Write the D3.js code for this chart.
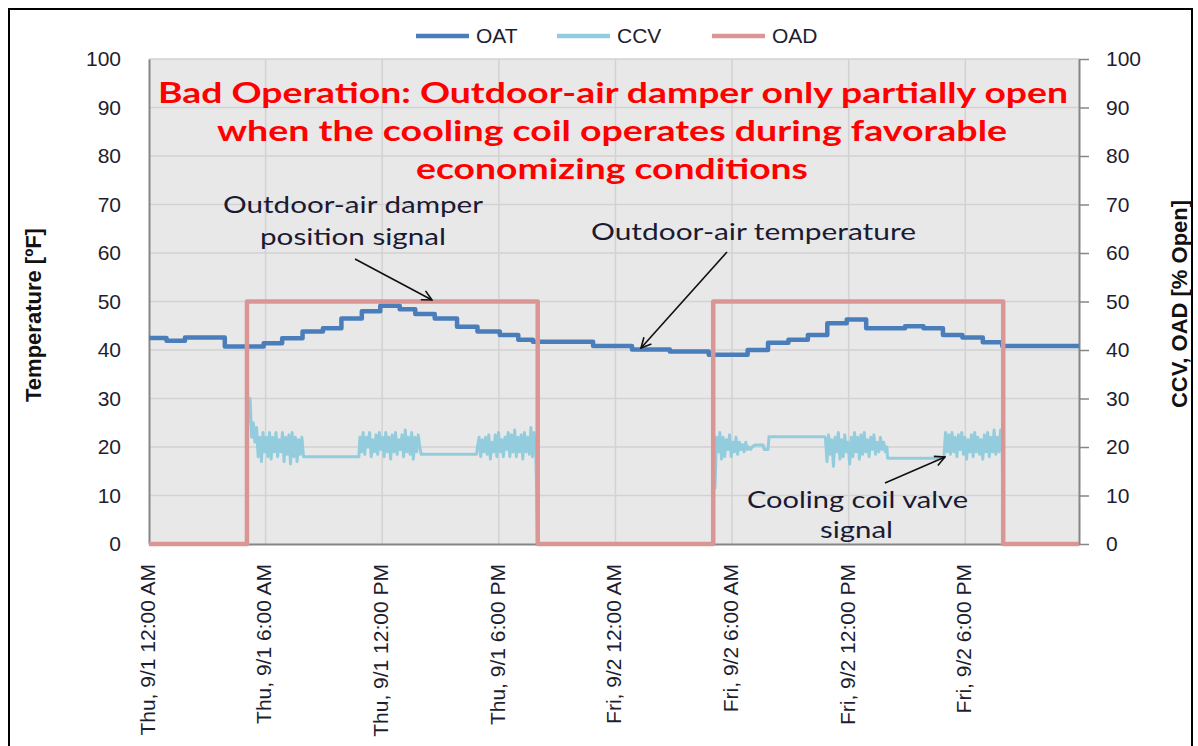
<!DOCTYPE html>
<html>
<head>
<meta charset="utf-8">
<script src="https://cdn.jsdelivr.net/npm/d3@7"></script>
<style>
  body { margin: 0; background: #fff; }
  svg { display: block; }
</style>
</head>
<body>
<svg id="chart" width="1198" height="746"></svg>
<script>
var chartWidth = 1198;
var chartHeight = 746;

/********
 * Data *
 ********/

// hours since Thu 9/1 12:00 AM
var tickHours = [0, 6, 12, 18, 24, 30, 36, 42];
var tickLabels = ["Thu, 9/1 12:00 AM", "Thu, 9/1 6:00 AM", "Thu, 9/1 12:00 PM", "Thu, 9/1 6:00 PM",
                  "Fri, 9/2 12:00 AM", "Fri, 9/2 6:00 AM", "Fri, 9/2 12:00 PM", "Fri, 9/2 6:00 PM"];
var yTicks = [0, 10, 20, 30, 40, 50, 60, 70, 80, 90, 100];
var endHour = 47.85;

// outdoor-air temperature, step changes
var oatHours = [0, 0.9, 1.85, 3.9, 5.9, 6.85, 7.9, 8.95, 9.9, 10.95, 11.9, 12.9, 13.7, 14.7, 15.85,
                16.9, 18.05, 19.0, 19.75, 22.85, 24.85, 26.8, 28.8, 30.8, 31.85, 32.9, 33.9, 34.9, 35.9,
                36.9, 38.9, 39.85, 40.85, 41.85, 42.9, 43.9];
var oatValues = [42.5, 41.9, 42.6, 40.7, 41.4, 42.4, 43.8, 44.5, 46.5, 48.0, 49.1, 48.4, 47.4, 46.5, 44.8,
                 43.8, 43.1, 42.1, 41.7, 40.8, 40.1, 39.7, 39.0, 40.0, 41.5, 42.1, 43.1, 45.5, 46.3,
                 44.5, 44.9, 44.5, 43.1, 42.6, 41.6, 40.8];

// outdoor-air damper schedule
var oadHours = [0, 5.04, 20.0, 29.03, 43.95];
var oadValues = [0, 50, 0, 50, 0];

// cooling coil valve: hunting segments sampled every 5 minutes
var ccvThuMorning = [30, 22, 25, 21, 24, 18, 22, 17, 23, 19, 22, 18, 23, 17.5, 22, 19, 23, 18, 21.5, 19,
                     23, 17, 22, 18.5, 22.5, 16.5, 23, 18, 22, 17, 21.5, 18.5, 22, 18];
var ccvThuMidday = [22, 19, 23, 18.5, 22, 20, 23, 18, 21.5, 19, 22.5, 18.5, 23, 19.5, 22, 18, 23, 19, 22,
                    17.5, 22.5, 19, 23, 18.5, 21.5, 19.5, 22.5, 18, 23.5, 19, 22, 18.5, 23, 17.5, 22, 19, 22.5, 20];
var ccvThuEvening = [20, 22, 18, 21.5, 19, 22, 18.5, 22.5, 17.5, 21, 19, 22.5, 18, 23, 19, 21.5, 18, 22,
                     19.5, 23, 18, 22.5, 19, 23.5, 18, 22, 19, 22.5, 17.5, 23, 19, 22, 18.5, 24, 18, 23, 19];
var ccvFriMorning = [11.5, 22, 19, 23, 17.5, 22, 18, 21.5, 19.5, 22.5, 18, 21, 19, 22, 18.5, 21, 19.5,
                     20.5, 19, 21, 19.5, 20, 19.5, 20];
var ccvFriMidday = [22, 17, 22.5, 18.5, 21.5, 16, 22, 19, 23, 17.5, 21.5, 18, 22.5, 19, 21, 16.5, 22, 18,
                    23, 19, 22, 17.5, 22.5, 18.5, 23, 19, 21.5, 18, 22, 19.5, 22.5, 18.5, 21, 19, 22, 19.5, 21, 19, 20];
var ccvFriEvening = [18, 23, 19, 22.5, 18.5, 23, 19, 22, 18, 22.5, 19.5, 23, 18.5, 22, 17.5, 21.5, 19,
                     22.5, 18, 23, 19, 22, 18.5, 21.5, 17.5, 22.5, 19, 23, 18, 22, 19, 23.5, 18.5, 22, 19, 23.5, 19];
// [hour, value] for the steady parts between hunting
var ccvSteady = [[0, 0], [5.04, 0], [5.06, 24], "A", [8.05, 18.0], [10.8, 18.0], "B", [14.0, 18.5], [16.85, 18.5], "C",
                 [20.0, 0], [29.03, 0], [29.05, 22], "D", [31.15, 20.4], [31.6, 20.4], [31.65, 19.5], [31.85, 19.5],
                 [31.9, 22.1], [34.75, 22.1], "E", [38.0, 17.7], [40.85, 17.7], "F", [43.95, 0], [endHour, 0]];
var ccvSegments = {A: [5.2, ccvThuMorning], B: [10.85, ccvThuMidday], C: [16.9, ccvThuEvening],
                   D: [29.12, ccvFriMorning], E: [34.8, ccvFriMidday], F: [40.9, ccvFriEvening]};

/**********
 * Scales *
 **********/

var x = d3.scaleLinear().domain([0, endHour]).range([149, 1079]);
var y = d3.scaleLinear().domain([0, 100]).range([544, 59]);

var svg = d3.select("#chart");
var font = "'Liberation Sans', Arial, sans-serif";
var textColor = "#1e1e30";

// outer frame
svg.append("rect")
    .attr("x", 9).attr("y", 9)
    .attr("width", 1183).attr("height", 780)
    .attr("fill", "none")
    .attr("stroke", "#000")
    .attr("stroke-width", 2);

// plot background
svg.append("rect")
    .attr("x", x(0)).attr("y", y(100))
    .attr("width", x(endHour) - x(0))
    .attr("height", y(0) - y(100))
    .attr("fill", "#e8e8e8");

// gridlines
svg.append("g").selectAll("line")
    .data(yTicks.slice(1))
    .enter().append("line")
    .attr("x1", x(0)).attr("x2", x(endHour))
    .attr("y1", function(d){ return y(d); })
    .attr("y2", function(d){ return y(d); })
    .attr("stroke", "#d2d2d2")
    .attr("stroke-width", 1.5);

svg.append("g").selectAll("line")
    .data(tickHours.slice(1))
    .enter().append("line")
    .attr("x1", function(d){ return x(d); })
    .attr("x2", function(d){ return x(d); })
    .attr("y1", y(0)).attr("y2", y(100))
    .attr("stroke", "#d2d2d2")
    .attr("stroke-width", 1.5);

/********
 * Axes *
 ********/

var yAxisLeft = d3.axisLeft(y).tickValues(yTicks).tickSize(0).tickPadding(28);
var yAxisRight = d3.axisRight(y).tickValues(yTicks).tickSize(10).tickSizeOuter(0).tickPadding(17);
var xAxis = d3.axisBottom(x).tickValues(tickHours).tickSize(0).tickSizeOuter(0)
    .tickFormat(function(d, i){ return tickLabels[i]; });

var leftGroup = svg.append("g")
    .attr("transform", "translate(" + x(0) + ",0)")
    .call(yAxisLeft);

var rightGroup = svg.append("g")
    .attr("transform", "translate(" + x(endHour) + ",0)")
    .call(yAxisRight);

var xGroup = svg.append("g")
    .attr("transform", "translate(0," + y(0) + ")")
    .call(xAxis);

[leftGroup, rightGroup, xGroup].forEach(function(g){
    g.select(".domain").attr("stroke", "#868686").attr("stroke-width", 2);
    g.selectAll(".tick line").attr("stroke", "#868686").attr("stroke-width", 1.5);
    g.selectAll("text")
        .attr("fill", textColor)
        .style("font-family", font)
        .style("font-size", "21px");
});

xGroup.selectAll("text")
    .style("font-size", "21px")
    .attr("text-anchor", "end")
    .attr("transform", "rotate(-90)")
    .attr("x", -20)
    .attr("y", -2)
    .attr("dy", "0.35em");

svg.append("text")
    .attr("transform", "translate(41,315) rotate(-90)")
    .attr("text-anchor", "middle")
    .style("font-family", font)
    .style("font-size", "22px")
    .style("font-weight", "bold")
    .attr("fill", "#111")
    .text("Temperature [ºF]");

svg.append("text")
    .attr("transform", "translate(1187,304) rotate(-90)")
    .attr("text-anchor", "middle")
    .style("font-family", font)
    .style("font-size", "22px")
    .style("font-weight", "bold")
    .attr("fill", "#111")
    .text("CCV, OAD [% Open]");

/**********
 * Series *
 **********/

var oatData = oatHours.map(function(h, i){ return [h, oatValues[i]]; });
oatData.push([endHour, oatValues[oatValues.length - 1]]);

var oadData = oadHours.map(function(h, i){ return [h, oadValues[i]]; });
oadData.push([endHour, 0]);

var ccvData = [];
ccvSteady.forEach(function(p){
    if (typeof p === "string") {
        var seg = ccvSegments[p];
        seg[1].forEach(function(v, i){ ccvData.push([seg[0] + i / 12, v]); });
    } else {
        ccvData.push(p);
    }
});

var stepLine = d3.line()
    .x(function(d){ return x(d[0]); })
    .y(function(d){ return y(d[1]); })
    .curve(d3.curveStepAfter);

var plainLine = d3.line()
    .x(function(d){ return x(d[0]); })
    .y(function(d){ return y(d[1]); });

svg.append("path")
    .attr("d", plainLine(ccvData))
    .attr("fill", "none")
    .attr("stroke", "#93cddd")
    .attr("stroke-width", 3)
    .attr("stroke-linejoin", "round");

svg.append("path")
    .attr("d", stepLine(oatData))
    .attr("fill", "none")
    .attr("stroke", "#4a7ebb")
    .attr("stroke-width", 4.5)
    .attr("stroke-linejoin", "round");

svg.append("path")
    .attr("d", stepLine(oadData))
    .attr("fill", "none")
    .attr("stroke", "#d99694")
    .attr("stroke-width", 4.5)
    .attr("stroke-linejoin", "round");

/**********
 * Legend *
 **********/

var legendItems = [["OAT", "#4a7ebb", 416], ["CCV", "#93cddd", 557], ["OAD", "#d99694", 712]];
var legend = svg.append("g").selectAll("g")
    .data(legendItems)
    .enter().append("g");

legend.append("line")
    .attr("x1", function(d){ return d[2]; })
    .attr("x2", function(d){ return d[2] + 53; })
    .attr("y1", 36).attr("y2", 36)
    .attr("stroke", function(d){ return d[1]; })
    .attr("stroke-width", 4.5);

legend.append("text")
    .attr("x", function(d){ return d[2] + 60; })
    .attr("y", 43)
    .style("font-family", font)
    .style("font-size", "21px")
    .attr("fill", textColor)
    .text(function(d){ return d[0]; });

/***************
 * Annotations *
 ***************/

var titleLines = [["Bad Operation: Outdoor-air damper only partially open", 613, 103, 910],
                  ["when the cooling coil operates during favorable", 612, 141, 790],
                  ["economizing conditions", 612, 179, 392]];

svg.append("g").selectAll("text")
    .data(titleLines)
    .enter().append("text")
    .attr("x", function(d){ return d[1] - d[3] / 2; })
    .attr("y", function(d){ return d[2]; })
    .attr("textLength", function(d){ return d[3]; })
    .attr("lengthAdjust", "spacingAndGlyphs")
    .style("font-family", "Lato, 'Open Sans', sans-serif")
    .style("font-size", "29px")
    .style("font-weight", "bold")
    .attr("fill", "#ff0000")
    .text(function(d){ return d[0]; });

var notes = [["Outdoor-air damper", 223, 213, 260], ["position signal", 260, 245, 186],
             ["Outdoor-air temperature", 591, 240, 325],
             ["Cooling coil valve", 747, 508, 221], ["signal", 820, 538, 73]];

svg.append("g").selectAll("text")
    .data(notes)
    .enter().append("text")
    .attr("x", function(d){ return d[1]; })
    .attr("y", function(d){ return d[2]; })
    .attr("textLength", function(d){ return d[3]; })
    .attr("lengthAdjust", "spacingAndGlyphs")
    .style("font-family", "Lato, 'Open Sans', sans-serif")
    .style("font-size", "23px")
    .attr("fill", "#1a1a33")
    .text(function(d){ return d[0]; });

svg.append("defs").append("marker")
    .attr("id", "arrow")
    .attr("viewBox", "0 0 12 12")
    .attr("refX", 11).attr("refY", 6)
    .attr("markerWidth", 12).attr("markerHeight", 12)
    .attr("markerUnits", "userSpaceOnUse")
    .attr("orient", "auto")
    .append("path")
    .attr("d", "M1,1 L11,6 L1,11")
    .attr("fill", "none")
    .attr("stroke", "#111")
    .attr("stroke-width", 1.6);

var arrows = [[355, 259, 432, 300], [727, 252, 641, 348], [885, 483, 945, 457]];

svg.append("g").selectAll("line")
    .data(arrows)
    .enter().append("line")
    .attr("x1", function(d){ return d[0]; })
    .attr("y1", function(d){ return d[1]; })
    .attr("x2", function(d){ return d[2]; })
    .attr("y2", function(d){ return d[3]; })
    .attr("stroke", "#111")
    .attr("stroke-width", 1.6)
    .attr("marker-end", "url(#arrow)");
</script>
</body>
</html>
